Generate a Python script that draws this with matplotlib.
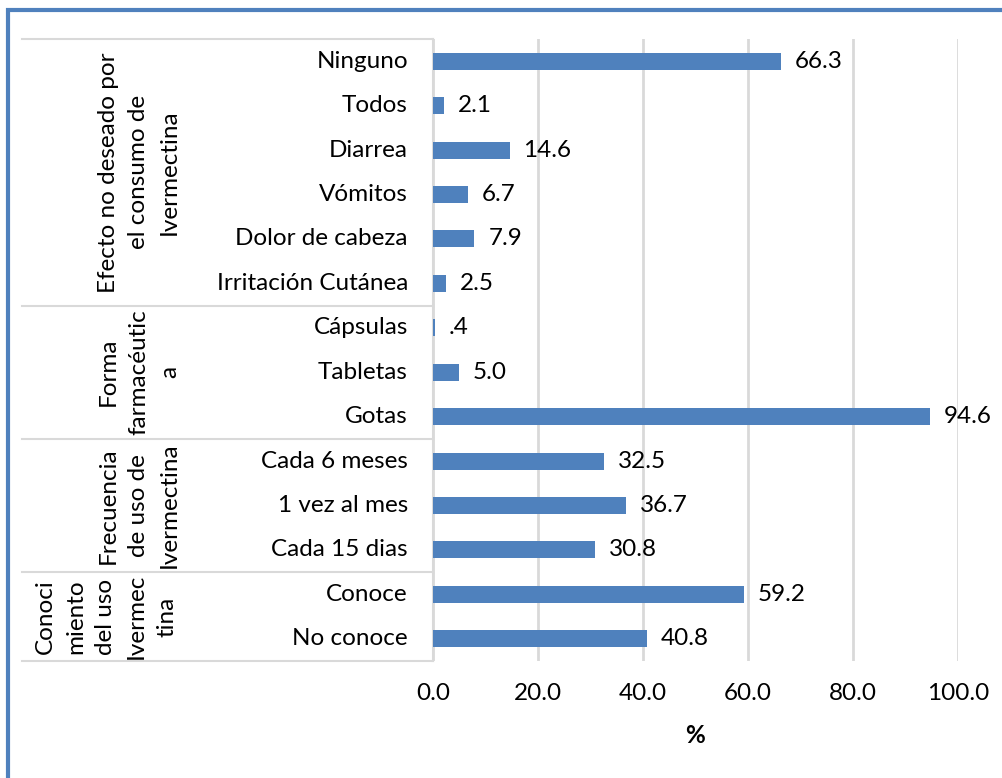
import matplotlib
matplotlib.use("Agg")
import matplotlib.pyplot as plt
from matplotlib.patches import Rectangle
from matplotlib.lines import Line2D

plt.rcParams['font.family'] = ['Lato', 'DejaVu Sans']

# Data (bottom to top)
categories = ["No conoce", "Conoce",
              "Cada 15 dias", "1 vez al mes", "Cada 6 meses",
              "Gotas", "Tabletas", "Cápsulas",
              "Irritación Cutánea", "Dolor de cabeza", "Vómitos", "Diarrea", "Todos", "Ninguno"]
values = [40.8, 59.2,
          30.8, 36.7, 32.5,
          94.6, 5.0, 0.4,
          2.5, 7.9, 6.7, 14.6, 2.1, 66.3]
value_labels = ["40.8", "59.2", "30.8", "36.7", "32.5", "94.6", "5.0", ".4",
                "2.5", "7.9", "6.7", "14.6", "2.1", "66.3"]
groups = ["Conoci\nmiento\ndel uso\nIvermec\ntina",
          "Frecuencia\nde uso de\nIvermectina",
          "Forma\nfarmacéutic\na",
          "Efecto no deseado por\nel consumo de\nIvermectina"]
group_sizes = [2, 3, 3, 6]
xticks = [0, 20, 40, 60, 80, 100]
xlabel = "%"

FS = 17.5
W, H = 1003, 778
fig = plt.figure(figsize=(W / 100, H / 100), dpi=100)
fig.patch.set_facecolor("white")

# outer border (top and left visible)
fig.patches.append(Rectangle((8 / W, -0.1), 1.2, (H - 10) / H + 0.1,
                             transform=fig.transFigure, fill=False,
                             edgecolor="#4F81BD", linewidth=3, zorder=0))

ax_left, ax_right = 433 / W, 958 / W
ax_top, ax_bot = 1 - 39 / H, 1 - 661 / H
ax = fig.add_axes([ax_left, ax_bot, ax_right - ax_left, ax_top - ax_bot])

n = len(categories)
ypos = list(range(n))
ax.barh(ypos, values, height=0.38, color="#4F81BD", zorder=3)
ax.set_xlim(0, 100)
ax.set_ylim(-0.5, n - 0.5)
ax.set_xticks(xticks)
ax.set_xticklabels([f"{t:.1f}" for t in xticks], fontsize=FS)
ax.tick_params(axis="x", length=0, pad=16)
ax.set_yticks([])
ax.grid(axis="x", color="#D9D9D9", linewidth=2, zorder=0)
for s in ["top", "right", "bottom"]:
    ax.spines[s].set_visible(False)
ax.spines["left"].set_color("#D9D9D9")
ax.spines["left"].set_linewidth(1.5)
ax.set_xlabel(xlabel, fontsize=FS, fontweight="bold", labelpad=14)

for y, v, lab in zip(ypos, values, value_labels):
    ax.annotate(lab, (v, y), xytext=(10, 0), textcoords="offset points",
                va="center", ha="left", fontsize=FS)

# category labels
trans = ax.get_yaxis_transform()
for y, c in zip(ypos, categories):
    ax.text(-25 / 525, y, c, transform=trans, ha="right", va="center",
            fontsize=FS, clip_on=False)

# group separators and labels
line_x0 = (22 - 433) / 525
start = -0.5
bounds = [start]
for gs in group_sizes:
    start += gs
    bounds.append(start)
for b in bounds:
    ax.add_line(Line2D([line_x0, 0], [b, b], transform=trans, color="#D9D9D9",
                       linewidth=1.5, clip_on=False))

group_cx = [106, 139, 139, 139]
for g, gx, b0, b1 in zip(groups, group_cx, bounds[:-1], bounds[1:]):
    ax.text((gx - 433) / 525, (b0 + b1) / 2, g, transform=trans, rotation=90,
            ha="center", va="center", multialignment="center",
            fontsize=FS, linespacing=1.55, clip_on=False)

fig.savefig("out.png", dpi=100)
